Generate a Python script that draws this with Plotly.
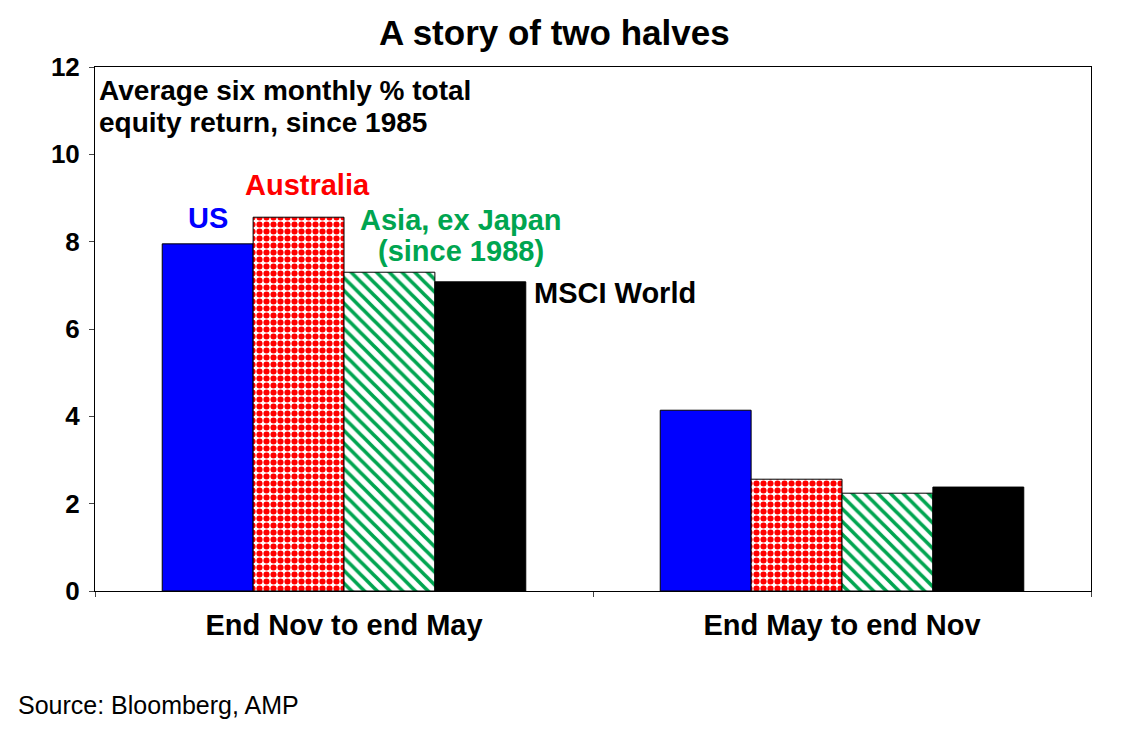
import plotly.graph_objects as go

categories = ["End Nov to end May", "End May to end Nov"]
us = [7.95, 4.14]
australia = [8.56, 2.56]
asia = [7.30, 2.24]
msci = [7.08, 2.38]

O = 8
W, H = 1131 - 2 * O, 741 - 2 * O
L, R, T, B = 95 - O, 1091 - O, 67 - O, 591 - O
def px(x): return (x - O - L) / (R - L)
def py(y): return (B - (y - O)) / (B - T)

fig = go.Figure()
line = dict(color="black", width=1)
fig.add_bar(x=categories, y=us, name="US", marker=dict(color="#0000ff", line=line))
fig.add_bar(x=categories, y=australia, name="Australia",
            marker=dict(color="white", line=line,
                        pattern=dict(shape=".", fgcolor="#ff0000", bgcolor="white", size=7, solidity=0.6, fillmode="replace")))
fig.add_bar(x=categories, y=asia, name="Asia",
            marker=dict(color="white", line=line,
                        pattern=dict(shape="\\", fgcolor="#00a550", bgcolor="white", size=9, solidity=0.4, fillmode="replace")))
fig.add_bar(x=categories, y=msci, name="MSCI World", marker=dict(color="black", line=line))

f = "Arial, Liberation Sans, sans-serif"
def ann(x, y, text, color="black", xanchor="center", size=29, bold=True, family=f):
    fig.add_annotation(x=px(x), y=py(y), xref="paper", yref="paper", text=f"<b>{text}</b>" if bold else text,
                       showarrow=False, xanchor=xanchor, yanchor="middle",
                       font=dict(family=family, size=size, color=color))

ann(208, 218, "US", "#0000ff")
ann(307, 185, "Australia", "#ff0000")
ann(461, 220, "Asia, ex Japan", "#00a550")
ann(461, 251, "(since 1988)", "#00a550")
ann(532, 293, "MSCI World", xanchor="left")
ann(97, 91, "Average six monthly % total", xanchor="left", size=28)
ann(97, 122, "equity return, since 1985", xanchor="left", size=28)
ann(16, 705, "Source: Bloomberg, AMP", xanchor="left", size=25, bold=False,
    family="Liberation Sans Narrow, Arial, sans-serif")

fig.update_layout(
    width=W, height=H, barmode="group", bargap=0.27, bargroupgap=0,
    showlegend=False, plot_bgcolor="white", paper_bgcolor="white",
    margin=dict(l=L, r=W - R, t=T, b=H - B),
    title=dict(text="<b>A story of two halves</b>", x=px(583), xanchor="center", y=1 - (33 - O) / H, yanchor="middle",
               font=dict(family=f, size=35, color="black")),
    font=dict(family=f, color="black"),
)
fig.update_xaxes(showline=True, linecolor="black", mirror=True, ticks="outside", ticklen=5,
                 tickfont=dict(size=29, family=f), ticklabelstandoff=8,
                 tickson="boundaries", tickprefix="<b>", ticksuffix="</b>")
fig.update_yaxes(range=[0, 12], dtick=2, showline=True, linecolor="black", mirror=True, showgrid=False,
                 ticks="outside", ticklen=5, tickfont=dict(size=26, family=f), ticklabelstandoff=4,
                 tickprefix="<b>", ticksuffix="</b>", zeroline=False)
fig.write_html("out.html")
